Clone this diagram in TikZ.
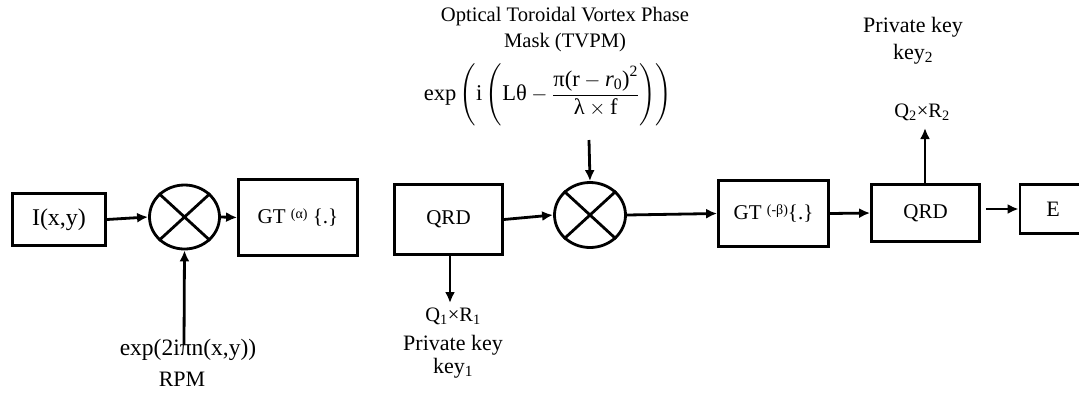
\documentclass[tikz,border=0pt]{standalone}
\usepackage{fontspec}
\usepackage{amsmath}
\setmainfont{Liberation Serif}
\usetikzlibrary{arrows.meta,shapes.geometric}
\begin{document}
\begin{tikzpicture}[x=1pt,y=-1pt,
  font=\fontsize{21}{25}\selectfont,
  blk/.style={draw,line width=2.8pt,rectangle,inner sep=0pt,anchor=center},
  mult/.style={draw,line width=2.8pt,ellipse,inner sep=0pt},
  arr/.style={line width=2.8pt,-{Latex[length=11pt,width=10pt]}},
  lbl/.style={inner sep=0pt,align=center}]
\useasboundingbox (0,0) rectangle (1079,392);
\clip (0,0) rectangle (1079,392);
% blocks
\node[blk,minimum width=93pt,minimum height=52pt,font=\fontsize{24}{28}\selectfont] (ixy) at (59,219.5) {I(x,y)};
\node[mult,minimum width=70pt,minimum height=64pt] (c1) at (184.5,217) {};
\draw[line width=2.8pt] (c1.north east) -- (c1.south west) (c1.north west) -- (c1.south east);
\node[blk,minimum width=119pt,minimum height=76pt] (gt1) at (298,217.5) {GT \raisebox{0.55ex}{\fontsize{14}{16}\selectfont(α)} \{.\}};
\node[blk,minimum width=108pt,minimum height=70pt] (qrd1) at (448.5,219.5) {QRD};
\node[mult,minimum width=71pt,minimum height=65pt] (c2) at (590,215) {};
\draw[line width=2.8pt] (c2.north east) -- (c2.south west) (c2.north west) -- (c2.south east);
\node[blk,minimum width=110pt,minimum height=66pt] (gt2) at (773.5,213.5) {GT \raisebox{0.55ex}{\fontsize{14}{16}\selectfont(-β)}\{.\}};
\node[blk,minimum width=108pt,minimum height=57pt] (qrd2) at (925.5,213) {QRD};
\node[blk,minimum width=66pt,minimum height=49pt,font=\fontsize{22}{26}\selectfont] (e) at (1053,209) {E};
% labels
\node[lbl,font=\fontsize{23.5}{28}\selectfont] (rpmexpr) at (188,350) {exp(2iπn(x,y))};
\node[lbl,font=\fontsize{22}{26}\selectfont] (rpm) at (182,379) {RPM};
\node[lbl,font=\fontsize{20.5}{24}\selectfont] (q1r1) at (453,316) {Q\textsubscript{1}×R\textsubscript{1}};
\node[lbl,font=\fontsize{22}{23}\selectfont] (key1) at (453,357) {Private key\\key\textsubscript{1}};
\node[lbl,font=\fontsize{20.6}{26}\selectfont] (tvpm) at (565,30) {Optical Toroidal Vortex Phase\\Mask (TVPM)};
\node[lbl,font=\fontsize{22.5}{27}\selectfont] (formula) at (548,95) {$\text{exp}\left(\text{i}\left(\text{Lθ} - \dfrac{\text{π(r} - \textit{r}_{\text{0}}\text{)}^{\text{2}}}{\text{λ} \times \text{f}}\right)\right)$};
\node[lbl,font=\fontsize{20.5}{24}\selectfont] (q2r2) at (922,112) {Q\textsubscript{2}×R\textsubscript{2}};
\node[lbl,font=\fontsize{22}{27}\selectfont] (key2) at (913,41) {Private key\\key\textsubscript{2}};
% coordinates for free ends
\coordinate (rpmtop) at (184,345);
\coordinate (k1end) at (450,303);
\coordinate (tvtop) at (589,140);
\coordinate (k2end) at (925,128);
% connectors
\draw[arr] (ixy.east) -- (c1.west);
\draw[arr] (c1.east) -- (gt1.west);
\draw[arr] (rpmtop) -- (c1.south);
\draw[arr] (qrd1.south -| k1end) -- (k1end);
\draw[arr] (qrd1.east) -- (c2.west);
\draw[arr] (tvtop) -- (c2.north);
\draw[arr] (c2.east) -- (gt2.west);
\draw[arr] (gt2.east) -- (qrd2.west);
\draw[arr] (qrd2.north -| k2end) -- (k2end);
\draw[arr] ([xshift=5pt]qrd2.east |- e.west) -- (e.west);
\end{tikzpicture}
\end{document}
